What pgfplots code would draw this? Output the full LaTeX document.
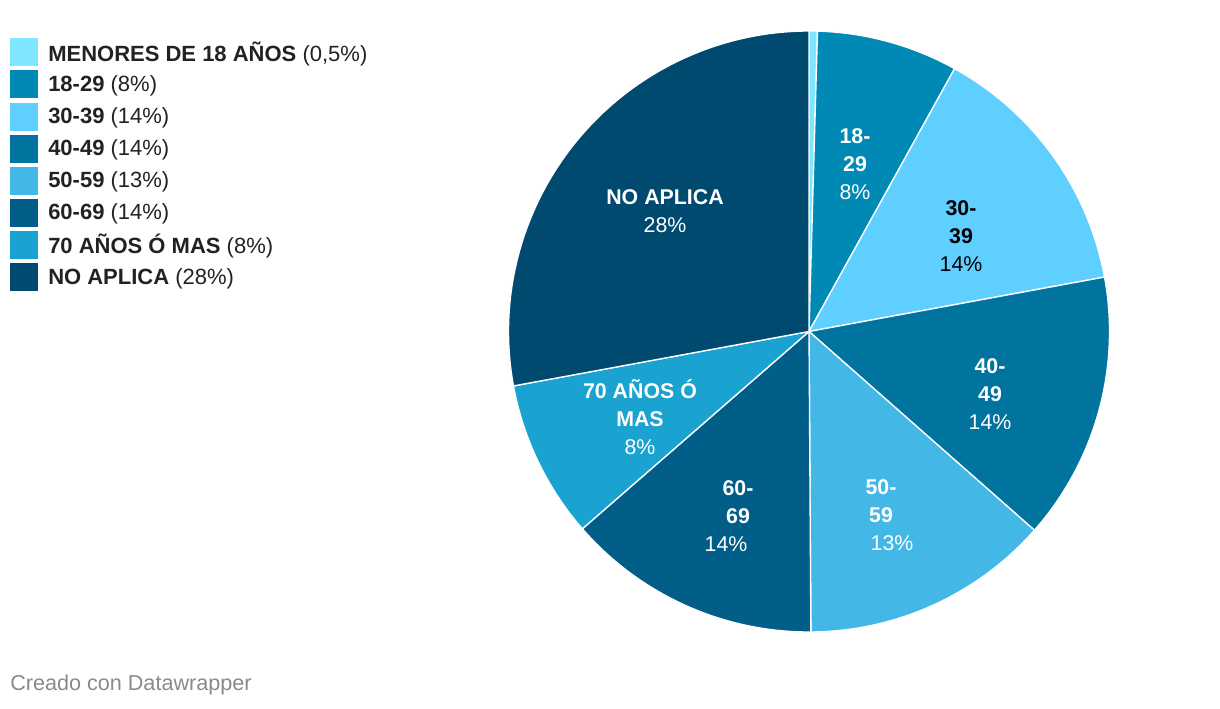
\documentclass[border=0pt]{standalone}
\usepackage{fontspec}
\setmainfont{Liberation Sans}
\usepackage{pgfplots}
\pgfplotsset{compat=1.18}
\definecolor{c1}{HTML}{80E6FF}
\definecolor{c2}{HTML}{0089B5}
\definecolor{c3}{HTML}{5FCFFF}
\definecolor{c4}{HTML}{00739E}
\definecolor{c5}{HTML}{43B8E6}
\definecolor{c6}{HTML}{005E88}
\definecolor{c7}{HTML}{1AA3D0}
\definecolor{c8}{HTML}{004A70}
\definecolor{txt}{HTML}{222222}
\definecolor{cap}{HTML}{8A8A8A}
% pie slice: start and end as cumulative percent of the total
\newcommand\slice[3]{%
  \addplot[fill=#3, draw=white, line width=1pt, domain=#1:#2, samples=90, variable=\t]
    ({809+300.5*sin(3.6*\t)},{376.5+300.5*cos(3.6*\t)}) -- (axis cs:809,376.5) -- cycle;}
\newcommand\lab[4]{\node[font=\fontsize{16}{21}\selectfont, text=#4, align=center, inner sep=0pt] at (axis cs:#1,#2) {#3};}
\begin{document}
\begin{tikzpicture}
\begin{axis}[scale only axis, width=915pt, height=531pt,
  xmin=0, xmax=1220, ymin=0, ymax=708, hide axis, clip=false,
  legend cell align=left,
  legend style={at={(0.0082,0.9463)}, anchor=north west, draw=none, fill=none,
    inner sep=0pt, row sep=3.1pt, column sep=7.5pt,
    font=\fontsize{16.5}{19}\selectfont, text=txt, nodes={inner sep=0pt}},
  legend image code/.code={\path[#1,draw=none] (0pt,-10.5pt) rectangle (21pt,10.5pt);},
]
% values (percent): 0.45, 7.6, 14.05, 14.4, 13.4, 13.7, 8.5, 27.9
\slice{0}{0.45}{c1}
\addlegendentry{\textbf{MENORES DE 18 AÑOS} (0,5\%)}
\slice{0.45}{8.05}{c2}
\addlegendentry{\textbf{18-29} (8\%)}
\slice{8.05}{22.1}{c3}
\addlegendentry{\textbf{30-39} (14\%)}
\slice{22.1}{36.5}{c4}
\addlegendentry{\textbf{40-49} (14\%)}
\slice{36.5}{49.9}{c5}
\addlegendentry{\textbf{50-59} (13\%)}
\slice{49.9}{63.6}{c6}
\addlegendentry{\textbf{60-69} (14\%)}
\slice{63.6}{72.1}{c7}
\addlegendentry{\textbf{70 AÑOS Ó MAS} (8\%)}
\slice{72.1}{100}{c8}
\addlegendentry{\textbf{NO APLICA} (28\%)}
\lab{855}{544}{\textbf{18-}\\\textbf{29}\\8\%}{white}
\lab{961}{472}{\textbf{30-}\\\textbf{39}\\14\%}{black}
\lab{990}{314}{\textbf{40-}\\\textbf{49}\\14\%}{white}
\lab{881}{221}{\textbf{50-}}{white}
\lab{881}{193}{\textbf{59}}{white}
\lab{892}{165}{13\%}{white}
\lab{738}{220}{\textbf{60-}}{white}
\lab{738}{192}{\textbf{69}}{white}
\lab{726}{164}{14\%}{white}
\lab{640}{291}{\textbf{70 AÑOS Ó}\\\textbf{MAS}\\8\%}{white}
\lab{665}{497}{\textbf{NO APLICA}\\28\%}{white}
\node[anchor=west, inner sep=0pt, text=cap, font=\fontsize{16.2}{18}\selectfont] at (axis cs:10,23) {Creado con Datawrapper};
\end{axis}
\pgfresetboundingbox
\path[use as bounding box] (0,0) rectangle (915pt,531pt);
\end{tikzpicture}
\end{document}
